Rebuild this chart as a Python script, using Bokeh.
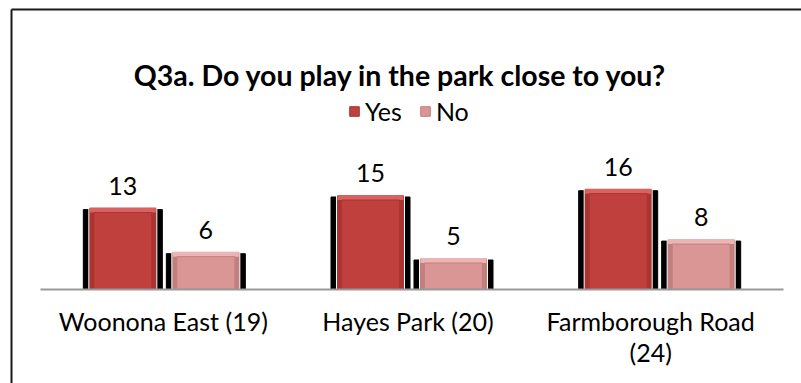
from bokeh.plotting import figure
from bokeh.models import Range1d, Legend, LegendItem, ColumnDataSource, Label
from bokeh.core.properties import value
from bokeh.embed import file_html
from bokeh.resources import INLINE

title_text = "Q3a. Do you play in the park close to you?"
categories = ["Woonona East (19)", "Hayes Park (20)", "Farmborough Road\n(24)"]
series_names = ["Yes", "No"]
yes_values = [13, 15, 16]
no_values = [6, 5, 8]

FONT = "Lato"
PX_X = 247.67   # pixels per category unit
PX_Y = 6.3      # pixels per value unit
X0, Y0 = 40, 289  # pixel position of the origin
label_nudge_px = [-1, -4, -9]  # slight horizontal shift of category labels


def xu(px):
    return (px - X0) / PX_X


def yu(py):
    return (Y0 - py) / PX_Y


p = figure(width=801, height=383, output_backend="svg", toolbar_location=None,
           x_range=Range1d(xu(9), xu(801)),
           y_range=Range1d(yu(383), yu(7)),
           x_axis_location=None, y_axis_location=None,
           min_border_left=9, min_border_top=7, min_border_right=0, min_border_bottom=0)
p.grid.visible = False
p.background_fill_color = "white"
p.border_fill_color = "white"
p.outline_line_color = None

# chart border (left and top edges)
p.segment(x0=[xu(11), xu(11)], y0=[yu(9), yu(9)], x1=[xu(11), xu(820)],
          y1=[yu(400), yu(9)], line_color="#1a1a1a", line_width=2)

bar_w = 68 / PX_X
off = 41.5 / PX_X
shadow_w = bar_w + 11 / PX_X
inner_w = bar_w - 10 / PX_X
bevel_h = 5 / PX_Y

styles = {
    "Yes": dict(main="#C0403E", top="#D8625E", side="#A93431"),
    "No": dict(main="#D99695", top="#EBB5B3", side="#C27F7E"),
}

xs = [i + 0.5 for i in range(len(categories))]
legend_items = []
for name, vals, sign in (("Yes", yes_values, -1), ("No", no_values, 1)):
    st = styles[name]
    bx = [x + sign * off for x in xs]
    src = ColumnDataSource(dict(x=bx, top=vals,
                                top_sh=[v - 2 / PX_Y for v in vals],
                                top_in=[v - bevel_h for v in vals],
                                label=[str(v) for v in vals]))
    p.vbar(x="x", top="top_sh", bottom=0, width=shadow_w, source=src,
           fill_color="black", line_color="black")
    p.vbar(x="x", top="top", bottom=0, width=bar_w, source=src,
           fill_color=st["side"], line_color="white", line_width=1)
    p.vbar(x="x", top="top", bottom="top_in", width=bar_w - 2 / PX_X, source=src,
           fill_color=st["top"], line_color=None)
    r = p.vbar(x="x", top="top_in", bottom=0.3 / PX_Y, width=inner_w, source=src,
               fill_color=st["main"], line_color=st["side"], line_width=1)
    p.text(x="x", y="top", text="label", source=src, text_align="center",
           text_baseline="bottom", y_offset=-13, text_font=value(FONT),
           text_font_size="25px", text_color="black")
    legend_items.append(LegendItem(label=name, renderers=[r]))

# category axis line and labels
p.segment(x0=[0], y0=[0], x1=[len(categories)], y1=[0],
          line_color="#999999", line_width=2)
cat_src = ColumnDataSource(dict(x=xs, y=[0] * len(xs), t=categories,
                                dx=label_nudge_px))
p.text(x="x", y="y", text="t", source=cat_src, text_align="center",
       text_baseline="top", x_offset="dx", y_offset=16, text_font=value(FONT),
       text_font_size="25px", text_color="black", text_line_height=1.05)

p.add_layout(Label(x=xu(400), y=yu(74), text=title_text,
                   text_align="center", text_baseline="middle",
                   text_font=FONT, text_font_style="bold",
                   text_font_size="28.5px", text_color="black"))

legend = Legend(items=legend_items, orientation="horizontal",
                location=(339, 257), glyph_width=12, glyph_height=12,
                label_standoff=5, spacing=17, padding=0, margin=0,
                border_line_color=None, background_fill_alpha=0,
                label_text_font=FONT, label_text_font_size="25px",
                label_text_color="black")
p.add_layout(legend)

open("out.html", "w").write(file_html(p, INLINE))
